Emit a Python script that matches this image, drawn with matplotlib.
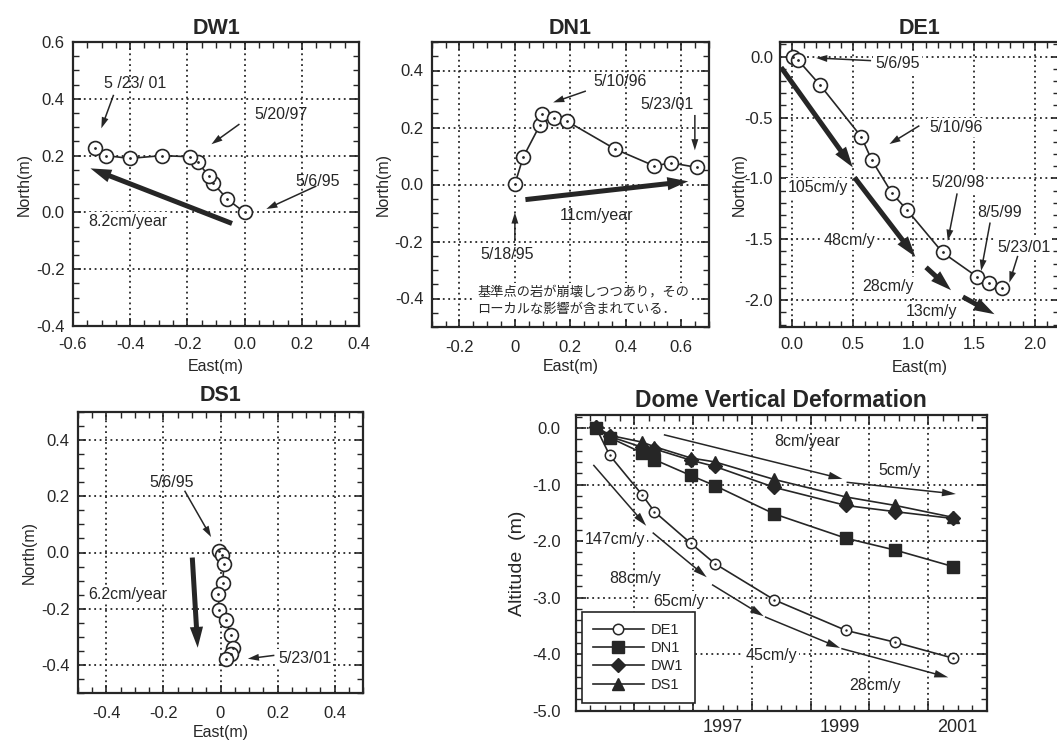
import numpy as np
import matplotlib
matplotlib.use("Agg")
import matplotlib.pyplot as plt
from matplotlib.ticker import MultipleLocator, FixedLocator, FuncFormatter, NullFormatter

plt.rcParams['font.family'] = ['Liberation Sans', 'DejaVu Sans']

INK = '#262626'
JP = ['Noto Sans CJK JP', 'DejaVu Sans']

# ---- horizontal displacement of the dome benchmarks (m), surveys 5/1995 - 5/2001 ----
dw1_east = [0.0, -0.06, -0.111, -0.126, -0.163, -0.192, -0.289, -0.402, -0.483, -0.522]
dw1_north = [0.0, 0.046, 0.104, 0.129, 0.176, 0.196, 0.2, 0.19, 0.2, 0.228]

dn1_east = [0.0, 0.03, 0.09, 0.098, 0.14, 0.188, 0.362, 0.503, 0.562, 0.657]
dn1_north = [0.002, 0.096, 0.208, 0.249, 0.234, 0.222, 0.124, 0.065, 0.076, 0.06]

de1_east = [0.005, 0.047, 0.23, 0.57, 0.656, 0.824, 0.948, 1.24, 1.525, 1.627, 1.73]
de1_north = [0.0, -0.027, -0.233, -0.658, -0.849, -1.123, -1.26, -1.608, -1.808, -1.855, -1.896]

ds1_east = [-0.005, 0.005, 0.012, 0.008, -0.009, -0.004, 0.018, 0.037, 0.043, 0.037, 0.02]
ds1_north = [0.005, -0.01, -0.042, -0.107, -0.147, -0.204, -0.241, -0.295, -0.339, -0.36, -0.378]

# ---- vertical deformation (m) ----
survey_year = [1995.34, 1995.58, 1996.13, 1996.34, 1996.96, 1997.37, 1998.38, 1999.60, 2000.44, 2001.42]
de1_alt = [0.02, -0.485, -1.18, -1.48, -2.04, -2.40, -3.04, -3.58, -3.79, -4.07]
dn1_alt = [0.0, -0.17, -0.44, -0.56, -0.84, -1.02, -1.52, -1.95, -2.16, -2.45]
dw1_alt = [0.02, -0.15, -0.34, -0.37, -0.57, -0.68, -1.05, -1.37, -1.48, -1.60]
ds1_alt = [0.03, -0.13, -0.25, -0.33, -0.53, -0.60, -0.91, -1.22, -1.37, -1.58]

year_labels = ['1997', '1999', '2001']

THIN = 'simple,head_length=0.8,head_width=0.5,tail_width=0.11'
THICK = 'simple,head_length=1.5,head_width=0.95,tail_width=0.36'
DOME = 'simple,head_length=1.0,head_width=0.55,tail_width=0.11'

NOTE_SIZE = 11.5
TICK_SIZE = 12

W, H = 1057, 747
fig = plt.figure(figsize=(W / 100, H / 100), dpi=100)


def box(l, t, r, b):
    # pixel box -> figure fraction
    return [l / W, 1 - b / H, (r - l) / W, (b - t) / H]


def fmt(zero_plain=False):
    def f(v, _):
        if abs(v) < 1e-9:
            return '0' if zero_plain else '0.0'
        return f'{v:.1f}'
    return FuncFormatter(f)


def style(ax, xlim, ylim, xmaj, ymaj, xmin, ymin, xzero=False, xpad=8, ypad=6):
    ax.set_xlim(xlim)
    ax.set_ylim(ylim)
    ax.xaxis.set_major_locator(MultipleLocator(xmaj))
    ax.yaxis.set_major_locator(MultipleLocator(ymaj))
    ax.xaxis.set_minor_locator(MultipleLocator(xmin))
    ax.yaxis.set_minor_locator(MultipleLocator(ymin))
    ax.xaxis.set_major_formatter(fmt(xzero))
    ax.yaxis.set_major_formatter(fmt())
    ax.tick_params(which='both', direction='in', top=True, right=True,
                   color=INK, labelcolor=INK, labelsize=TICK_SIZE)
    ax.tick_params(which='major', length=6, width=1.2)
    ax.tick_params(which='minor', length=4, width=1.0)
    ax.tick_params(axis='x', which='major', pad=xpad)
    ax.tick_params(axis='y', which='major', pad=ypad)
    ax.grid(which='major', linestyle=(0, (1, 2)), color=INK, lw=1.3)
    ax.set_axisbelow(True)
    for s in ax.spines.values():
        s.set_linewidth(1.6)
        s.set_color(INK)


def track(ax, x, y):
    ax.plot(x, y, color=INK, lw=1.2, marker='o', ms=10, mfc='white', mec=INK, mew=1.2, zorder=3)
    ax.plot(x, y, ls='none', marker='.', ms=2, color=INK, zorder=3)


def note(ax, text, pos, tail=None, tip=None, bg=False, size=NOTE_SIZE, ha='center', arrow=THIN):
    kw = dict(bbox=dict(fc='white', ec='none', pad=1.5)) if bg else {}
    ax.text(pos[0], pos[1], text, ha=ha, va='center', fontsize=size, color=INK,
            zorder=1, clip_on=False, **kw)
    if tail is not None:
        arrow_(ax, tail, tip, arrow)


def arrow_(ax, tail, tip, style_=THICK):
    ax.annotate('', xy=tip, xytext=tail, zorder=4,
                arrowprops=dict(arrowstyle=style_, fc=INK, ec='none', lw=0,
                                mutation_scale=10, shrinkA=0, shrinkB=0))


def labels(ax, title, tpad=6, xlp=3, ylp=3):
    ax.set_title(title, fontsize=15.5, fontweight='bold', color=INK, pad=tpad)
    ax.set_xlabel('East(m)', fontsize=11.5, color=INK, labelpad=xlp)
    ax.set_ylabel('North(m)', fontsize=11.5, color=INK, labelpad=ylp)


# ---------------- DW1 ----------------
ax = fig.add_axes(box(73, 42, 359, 326))
style(ax, (-0.6, 0.4), (-0.4, 0.6), 0.2, 0.2, 0.05, 0.05)
track(ax, dw1_east, dw1_north)
labels(ax, 'DW1', xlp=5)
note(ax, '5 /23/ 01', (-0.384, 0.455), (-0.458, 0.414), (-0.501, 0.296))
note(ax, '5/20/97', (0.128, 0.344), (-0.018, 0.311), (-0.116, 0.24))
note(ax, '5/6/95', (0.257, 0.108), (0.251, 0.093), (0.076, 0.012))
note(ax, '8.2cm/year', (-0.408, -0.033), bg=True)
arrow_(ax, (-0.044, -0.039), (-0.539, 0.155))

# ---------------- DN1 ----------------
ax = fig.add_axes(box(431.7, 42, 709, 327))
style(ax, (-0.3, 0.7), (-0.5, 0.5), 0.2, 0.2, 0.05, 0.05, xzero=True, xpad=9)
track(ax, dn1_east, dn1_north)
labels(ax, 'DN1')
note(ax, '5/10/96', (0.38, 0.361), (0.256, 0.328), (0.138, 0.288))
note(ax, '5/23/01', (0.547, 0.279), (0.649, 0.244), (0.649, 0.12))
note(ax, '5/18/95', (-0.028, -0.245), (0.0, -0.198), (0.0, -0.098))
note(ax, '11cm/year', (0.296, -0.109))
arrow_(ax, (0.038, -0.053), (0.625, 0.011))
ax.text(-0.135, -0.4075, '基準点の岩が崩壊しつつあり，その\nローカルな影響が含まれている．',
        family=JP, fontsize=9.5, color=INK, ha='left', va='center', linespacing=1.45,
        zorder=1, bbox=dict(fc='white', ec='none', pad=1.5))

# ---------------- DE1 ----------------
ax = fig.add_axes(box(780, 42, 1059, 327))
style(ax, (-0.1, 2.2), (-2.22, 0.12), 0.5, 0.5, 0.1, 0.1, xpad=7, ypad=5)
track(ax, de1_east, de1_north)
labels(ax, 'DE1', xlp=6, ylp=-2)
note(ax, '5/6/95', (0.871, -0.06), (0.651, -0.033), (0.198, -0.011), bg=True)
note(ax, '5/10/96', (1.352, -0.581), (1.049, -0.567), (0.802, -0.718), bg=True)
note(ax, '5/20/98', (1.365, -1.033), (1.36, -1.123), (1.283, -1.512), bg=True)
note(ax, '8/5/99', (1.709, -1.279), (1.632, -1.362), (1.558, -1.759), bg=True)
note(ax, '5/23/01', (1.69, -1.567), (1.86, -1.636), (1.791, -1.855), bg=True, ha='left')
note(ax, '105cm/y', (0.212, -1.074), bg=True)
note(ax, '48cm/y', (0.473, -1.507), bg=True)
note(ax, '28cm/y', (0.788, -1.888), bg=True)
note(ax, '13cm/y', (1.146, -2.093), bg=True)
arrow_(ax, (-0.091, -0.088), (0.5, -0.91))
arrow_(ax, (0.514, -0.992), (1.016, -1.644))
arrow_(ax, (1.104, -1.73), (1.31, -1.918))
arrow_(ax, (1.407, -1.973), (1.668, -2.115))

# ---------------- DS1 ----------------
ax = fig.add_axes(box(78, 412, 363, 693))
style(ax, (-0.5, 0.5), (-0.5, 0.5), 0.2, 0.2, 0.05, 0.05, xzero=True, xpad=9)
track(ax, ds1_east, ds1_north)
labels(ax, 'DS1', tpad=8)
note(ax, '5/6/95', (-0.173, 0.249), (-0.126, 0.22), (-0.033, 0.055))
note(ax, '5/23/01', (0.295, -0.378), (0.189, -0.366), (0.096, -0.378), bg=True)
note(ax, '6.2cm/year', (-0.325, -0.148), bg=True)
arrow_(ax, (-0.099, -0.018), (-0.08, -0.339))

# ---------------- Dome vertical deformation ----------------
ax = fig.add_axes(box(575.7, 415, 987, 710.7))
ax.set_xlim(1995, 2002)
ax.set_ylim(-5.0, 0.23)
ax.xaxis.set_major_locator(MultipleLocator(1))
ax.xaxis.set_major_formatter(NullFormatter())
ax.xaxis.set_minor_locator(FixedLocator(np.arange(1995, 2002.01, 0.25)))
label_at = {1997.5: year_labels[0], 1999.5: year_labels[1], 2001.5: year_labels[2]}
ax.xaxis.set_minor_formatter(FuncFormatter(lambda v, _: label_at.get(round(v, 2), '')))
ax.yaxis.set_major_locator(MultipleLocator(1.0))
ax.yaxis.set_minor_locator(MultipleLocator(0.2))
ax.yaxis.set_major_formatter(fmt())
ax.tick_params(which='both', direction='in', top=True, right=True, color=INK, labelcolor=INK)
ax.tick_params(which='major', length=7, width=1.2)
ax.tick_params(which='minor', length=4, width=1.0)
ax.tick_params(axis='x', which='minor', pad=6, labelsize=13)
ax.tick_params(axis='y', which='major', pad=11, labelsize=12)
ax.grid(which='major', linestyle=(0, (1, 2)), color=INK, lw=1.3)
ax.set_axisbelow(True)
for s in ax.spines.values():
    s.set_linewidth(1.6)
    s.set_color(INK)
ax.set_title('Dome Vertical Deformation', fontsize=16.5, fontweight='bold', color=INK, pad=6)
ax.set_ylabel('Altitude  (m)', fontsize=14, color=INK, labelpad=4)

l1, = ax.plot(survey_year, de1_alt, color=INK, lw=1.2, marker='o', ms=7.5, mfc='white', mec=INK, mew=1.1, zorder=3, label='DE1')
ax.plot(survey_year, de1_alt, ls='none', marker='.', ms=1.5, color=INK, zorder=3)
l2, = ax.plot(survey_year, dn1_alt, color=INK, lw=1.2, marker='s', ms=8, zorder=3, label='DN1')
l3, = ax.plot(survey_year, dw1_alt, color=INK, lw=1.2, marker='D', ms=7.5, zorder=3, label='DW1')
l4, = ax.plot(survey_year, ds1_alt, color=INK, lw=1.2, marker='^', ms=8.5, zorder=3, label='DS1')

note(ax, '8cm/year', (1998.94, -0.23))
note(ax, '5cm/y', (2000.52, -0.75))
note(ax, '147cm/y', (1995.67, -1.97), bg=True)
note(ax, '88cm/y', (1996.01, -2.66))
note(ax, '65cm/y', (1996.75, -3.06), bg=True)
note(ax, '45cm/y', (1998.33, -4.02), bg=True)
note(ax, '28cm/y', (2000.10, -4.56))
arrow_(ax, (1996.50, -0.119), (1999.54, -0.90), DOME)
arrow_(ax, (1999.61, -0.96), (2001.47, -1.167), DOME)
arrow_(ax, (1995.30, -0.652), (1996.20, -1.73), DOME)
arrow_(ax, (1996.31, -1.85), (1997.23, -2.64), DOME)
arrow_(ax, (1997.32, -2.77), (1998.20, -3.33), DOME)
arrow_(ax, (1998.22, -3.34), (1999.50, -3.89), DOME)
arrow_(ax, (1999.52, -3.90), (2001.34, -4.41), DOME)

leg = ax.legend(handles=[l1, l2, l3, l4], loc='lower left', bbox_to_anchor=(0.015, 0.027),
                borderaxespad=0, fontsize=10.5, handlelength=3.5, handletextpad=0.5,
                labelspacing=0.3, borderpad=0.75, fancybox=False, framealpha=1,
                edgecolor=INK)
leg.get_frame().set_linewidth(1.2)
for t in leg.get_texts():
    t.set_color(INK)

fig.savefig('out.png', dpi=100, facecolor='white')
